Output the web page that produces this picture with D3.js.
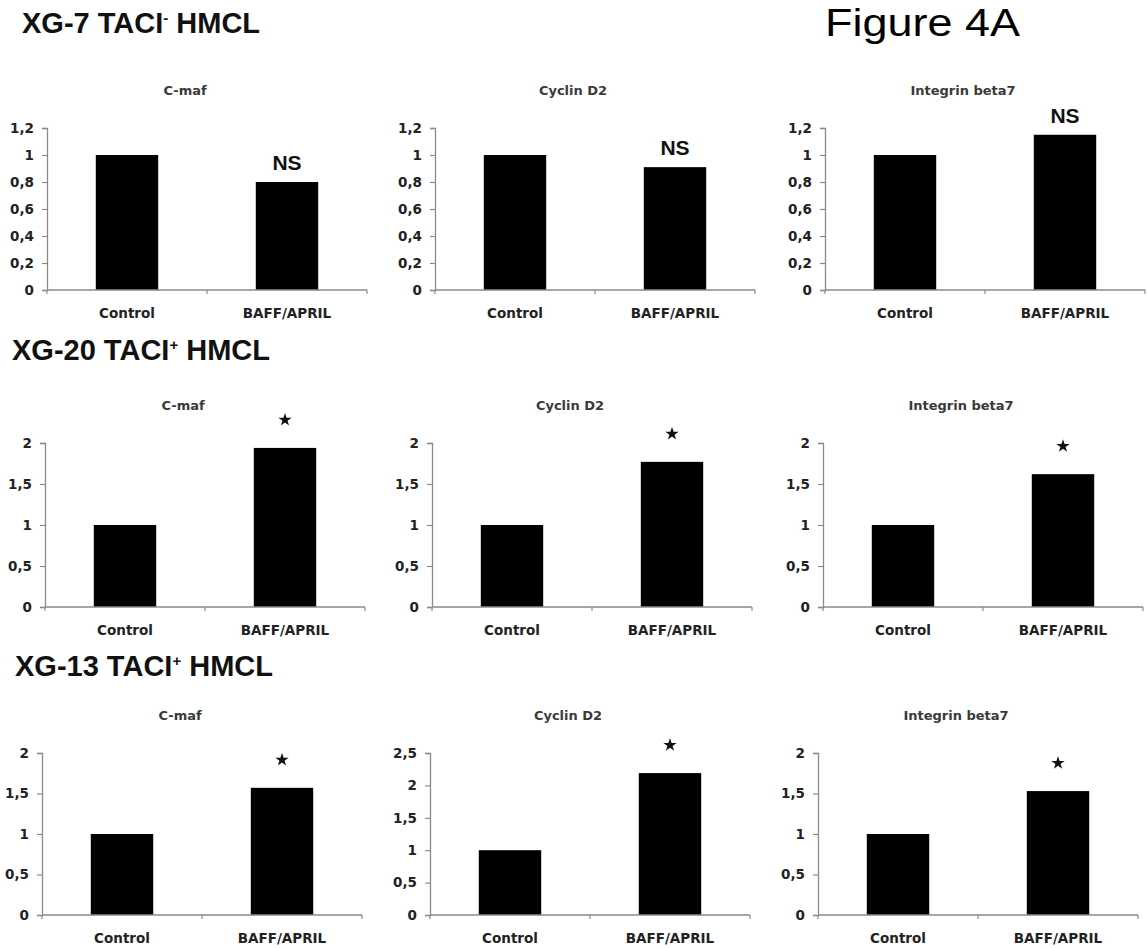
<!DOCTYPE html>
<html>
<head>
<meta charset="utf-8">
<script src="https://cdn.jsdelivr.net/npm/d3@7"></script>
<style>
  html, body { margin: 0; padding: 0; background: #fff; }
  svg { display: block; }
</style>
</head>
<body>
<svg id="chart" width="1147" height="948"></svg>
<script>
// ---------------- DATA ----------------
const categories = ["Control", "BAFF/APRIL"];
const genes = ["C-maf", "Cyclin D2", "Integrin beta7"];
const cellLineNames = ["XG-7 TACI", "XG-20 TACI", "XG-13 TACI"];
const cellLineSup = ["-", "+", "+"];
const cellLineSuffix = " HMCL";

// values per gene [Control, BAFF/APRIL]
const xg7Values  = [[1, 0.80], [1, 0.91], [1, 1.15]];
const xg20Values = [[1, 1.94], [1, 1.77], [1, 1.62]];
const xg13Values = [[1, 1.57], [1, 2.19], [1, 1.53]];

const xg7Ticks  = [[0, 0.2, 0.4, 0.6, 0.8, 1, 1.2], [0, 0.2, 0.4, 0.6, 0.8, 1, 1.2], [0, 0.2, 0.4, 0.6, 0.8, 1, 1.2]];
const xg20Ticks = [[0, 0.5, 1, 1.5, 2], [0, 0.5, 1, 1.5, 2], [0, 0.5, 1, 1.5, 2]];
const xg13Ticks = [[0, 0.5, 1, 1.5, 2], [0, 0.5, 1, 1.5, 2, 2.5], [0, 0.5, 1, 1.5, 2]];

const xg7Marks  = ["NS", "NS", "NS"];
const xg20Marks = ["*", "*", "*"];
const xg13Marks = ["*", "*", "*"];

const figureLabel = "Figure 4A";

// ---------------- LAYOUT ----------------
const rows = [
  { values: xg7Values,  ticks: xg7Ticks,  marks: xg7Marks,  top: 128, zero: 290, axisX: [47, 435, 825], headerX: 22, headerY: 33 },
  { values: xg20Values, ticks: xg20Ticks, marks: xg20Marks, top: 443, zero: 607, axisX: [45, 432, 823], headerX: 12, headerY: 360 },
  { values: xg13Values, ticks: xg13Ticks, marks: xg13Marks, top: 753, zero: 915, axisX: [42, 430, 818], headerX: 15, headerY: 676 }
];
const plotW = 320;
const chartFont = "'DejaVu Sans', Verdana, sans-serif";
const headFont = "'Liberation Sans', Arial, Helvetica, sans-serif";
const axisColor = "#8a8a8a";
const chartFontSize = 13.5;

const locale = d3.formatLocale({ decimal: ",", thousands: ".", grouping: [3], currency: ["", ""] });
const fmt = locale.format("~g");

const svg = d3.select("#chart");

// Figure label
svg.append("text")
  .attr("x", 825).attr("y", 36)
  .attr("font-family", headFont).attr("font-size", 38)
  .attr("textLength", 195).attr("lengthAdjust", "spacingAndGlyphs")
  .attr("fill", "#000")
  .text(figureLabel);

rows.forEach((row, ri) => {
  // header
  const h = svg.append("text")
    .attr("x", row.headerX).attr("y", row.headerY)
    .attr("font-family", headFont).attr("font-size", 29).attr("font-weight", "bold")
    .attr("fill", "#111");
  h.append("tspan").text(cellLineNames[ri]);
  h.append("tspan").attr("dy", -10).attr("font-size", 15).text(cellLineSup[ri]);
  h.append("tspan").attr("dy", 10).text(cellLineSuffix);

  genes.forEach((gene, gi) => {
    const ax = row.axisX[gi];
    const vals = row.values[gi];
    const ticks = row.ticks[gi];
    const yMax = ticks[ticks.length - 1];

    const x = d3.scaleBand().domain(categories).range([ax, ax + plotW])
      .paddingInner(0.61).paddingOuter(0.305);
    const y = d3.scaleLinear().domain([0, yMax]).range([row.zero, row.top]);

    const g = svg.append("g");

    // title
    g.append("text")
      .attr("x", ax + 138).attr("y", row.top - 33)
      .attr("text-anchor", "middle")
      .attr("font-family", chartFont).attr("font-size", 13).attr("font-weight", "bold")
      .attr("fill", "#3a3a3a")
      .text(gene);

    // bars
    g.selectAll("rect.bar").data(categories).enter().append("rect")
      .attr("class", "bar")
      .attr("x", d => x(d))
      .attr("width", x.bandwidth())
      .attr("y", (d, i) => y(vals[i]))
      .attr("height", (d, i) => y(0) - y(vals[i]))
      .attr("fill", "#000");

    // y axis
    const yAxis = d3.axisLeft(y).tickValues(ticks).tickFormat(fmt).tickSize(5).tickPadding(8);
    const ya = g.append("g").attr("transform", `translate(${ax},0)`).call(yAxis);
    ya.select(".domain").attr("stroke", axisColor).attr("stroke-width", 1.3);
    ya.selectAll(".tick line").attr("stroke", axisColor).attr("stroke-width", 1.2);
    ya.selectAll(".tick text")
      .attr("font-family", chartFont).attr("font-size", chartFontSize).attr("font-weight", "bold")
      .attr("fill", "#222");

    // x axis
    const xa = g.append("g").attr("transform", `translate(0,${row.zero})`);
    xa.append("line")
      .attr("x1", ax).attr("x2", ax + plotW)
      .attr("y1", 0).attr("y2", 0)
      .attr("stroke", axisColor).attr("stroke-width", 1.3);
    const step = x.step();
    xa.selectAll("line.xt").data(d3.range(categories.length + 1)).enter().append("line")
      .attr("class", "xt")
      .attr("x1", i => ax + i * step).attr("x2", i => ax + i * step)
      .attr("y1", 0).attr("y2", 4)
      .attr("stroke", axisColor).attr("stroke-width", 1.2);
    xa.selectAll("text.cat").data(categories).enter().append("text")
      .attr("class", "cat")
      .attr("x", d => x(d) + x.bandwidth() / 2)
      .attr("y", 28)
      .attr("text-anchor", "middle")
      .attr("font-family", chartFont).attr("font-size", chartFontSize).attr("font-weight", "bold")
      .attr("fill", "#222")
      .text(d => d);

    // significance mark on BAFF/APRIL bar
    const mark = row.marks[gi];
    const cx = x(categories[1]) + x.bandwidth() / 2;
    const topY = y(vals[1]);
    if (mark === "NS") {
      g.append("text")
        .attr("x", cx).attr("y", topY - 12)
        .attr("text-anchor", "middle")
        .attr("font-family", headFont).attr("font-size", 21).attr("font-weight", "bold")
        .attr("fill", "#111")
        .text("NS");
    } else {
      g.append("path")
        .attr("d", d3.symbol(d3.symbolStar, 55)())
        .attr("transform", `translate(${cx},${topY - 28})`)
        .attr("fill", "#111");
    }
  });
});
</script>
</body>
</html>
